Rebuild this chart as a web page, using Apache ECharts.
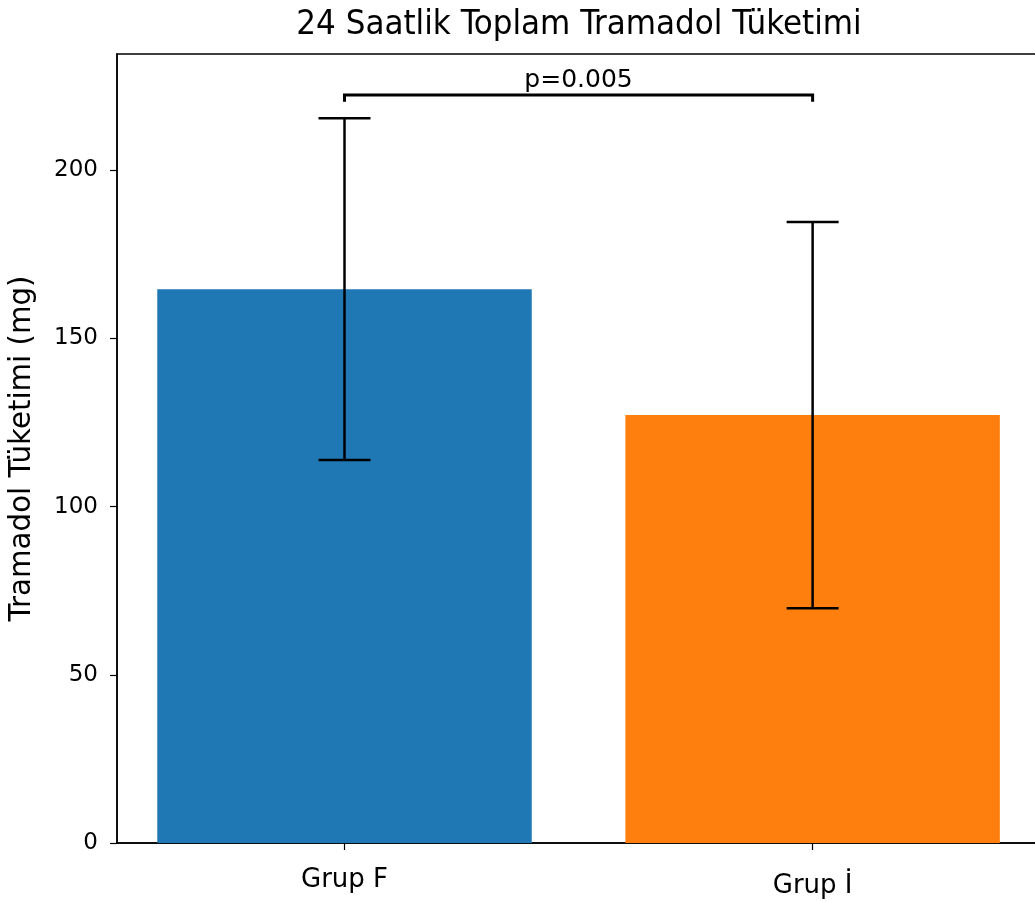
<!DOCTYPE html>
<html>
<head>
<meta charset="utf-8">
<script src="https://cdn.jsdelivr.net/npm/echarts@6/dist/echarts.min.js"></script>
<style>
  html, body { margin: 0; padding: 0; background: #fff; overflow: hidden; width: 1035px; height: 901px; }
  /* plot area runs past the right edge of the page, so the canvas is a little wider */
  #chart { width: 1048px; height: 901px; }
</style>
</head>
<body>
<div id="chart"></div>
<script>
// Group names, mean consumption and standard deviation (mg)
const categories = ['Grup F', 'Grup İ'];
const means = [164.6, 127.2];
const sds = [50.8, 57.4];
const barColors = ['#1f77b4', '#ff7f0e'];
const yTicks = [0, 50, 100, 150, 200];
// Significance bracket between the two groups
const pText = 'p=0.005';
const bracketTop = 222.3;
const bracketFoot = 220.3;

const chart = echarts.init(document.getElementById('chart'), null, { renderer: 'canvas' });

const barHalf = 0.4;
const capHalfPx = 26;
const FONT = 'DejaVu Sans';

const option = {
  backgroundColor: '#ffffff',
  animation: false,
  title: {
    text: '24 Saatlik Toplam Tramadol Tüketimi',
    left: 574,
    top: 3,
    textAlign: 'center',
    textStyle: { fontFamily: '"DejaVu Sans Condensed", "DejaVu Sans"', fontSize: 34.5, fontWeight: 'normal', color: '#000' }
  },
  grid: {
    left: 117, top: 54, width: 925, height: 789,
    show: true, borderColor: '#000', borderWidth: 1.5, backgroundColor: '#fff'
  },
  xAxis: {
    type: 'value',
    min: -0.486, max: 1.49,
    splitLine: { show: false },
    axisLine: { show: true, onZero: false, lineStyle: { color: '#000', width: 1.5 } },
    axisTick: { show: true, length: 7, customValues: [0, 1], lineStyle: { color: '#000', width: 1.2 } },
    axisLabel: {
      customValues: [0, 1],
      margin: 24,
      formatter: function (v) {
        const i = Math.round(v);
        return i === 1 ? '{b|' + categories[i] + '}' : '{a|' + categories[i] + '}';
      },
      rich: {
        a: { fontFamily: FONT, fontSize: 26, color: '#000' },
        b: { fontFamily: FONT, fontSize: 26, color: '#000', padding: [6, 0, 0, 0] }
      }
    }
  },
  yAxis: {
    type: 'value',
    min: 0, max: 234.5,
    name: 'Tramadol Tüketimi (mg)',
    nameLocation: 'middle',
    nameRotate: 90,
    nameGap: 80,
    nameTextStyle: { fontFamily: FONT, fontSize: 29.3, color: '#000' },
    splitLine: { show: false },
    axisLine: { show: true, onZero: false, lineStyle: { color: '#000', width: 1.5 } },
    axisTick: { show: true, length: 7, customValues: yTicks, lineStyle: { color: '#000', width: 1.2 } },
    axisLabel: {
      customValues: yTicks,
      margin: 19,
      fontFamily: FONT, fontSize: 23, color: '#000'
    }
  },
  series: [
    {
      name: 'bars',
      type: 'custom',
      data: means.map((m, i) => [i, m]),
      renderItem: function (params, api) {
        const x = api.value(0), v = api.value(1);
        const p0 = api.coord([x - barHalf, v]);
        const p1 = api.coord([x + barHalf, 0]);
        return {
          type: 'rect',
          shape: { x: p0[0], y: p0[1], width: p1[0] - p0[0], height: p1[1] - p0[1] },
          style: { fill: barColors[params.dataIndex] }
        };
      },
      z: 2
    },
    {
      name: 'errors',
      type: 'custom',
      data: means.map((m, i) => [i, m - sds[i], m + sds[i]]),
      renderItem: function (params, api) {
        const x = api.value(0);
        const lo = api.coord([x, api.value(1)]);
        const hi = api.coord([x, api.value(2)]);
        const st = { stroke: '#000', lineWidth: 2.5 };
        return {
          type: 'group',
          children: [
            { type: 'line', shape: { x1: lo[0], y1: lo[1], x2: hi[0], y2: hi[1] }, style: st },
            { type: 'line', shape: { x1: hi[0] - capHalfPx, y1: hi[1], x2: hi[0] + capHalfPx, y2: hi[1] }, style: st },
            { type: 'line', shape: { x1: lo[0] - capHalfPx, y1: lo[1], x2: lo[0] + capHalfPx, y2: lo[1] }, style: st }
          ]
        };
      },
      z: 3
    },
    {
      name: 'bracket',
      type: 'custom',
      data: [[0, 1, bracketTop, bracketFoot]],
      renderItem: function (params, api) {
        const a = api.coord([api.value(0), api.value(3)]);
        const b = api.coord([api.value(0), api.value(2)]);
        const c = api.coord([api.value(1), api.value(2)]);
        const d = api.coord([api.value(1), api.value(3)]);
        return {
          type: 'group',
          children: [
            { type: 'polyline', shape: { points: [a, b, c, d] }, style: { stroke: '#000', lineWidth: 3, fill: null } },
            {
              type: 'text',
              x: (b[0] + c[0]) / 2, y: b[1] - 2,
              style: { text: pText, fontFamily: FONT, fontSize: 25, fill: '#000', align: 'center', verticalAlign: 'bottom' }
            }
          ]
        };
      },
      z: 4
    }
  ]
};

chart.setOption(option);
</script>
</body>
</html>
